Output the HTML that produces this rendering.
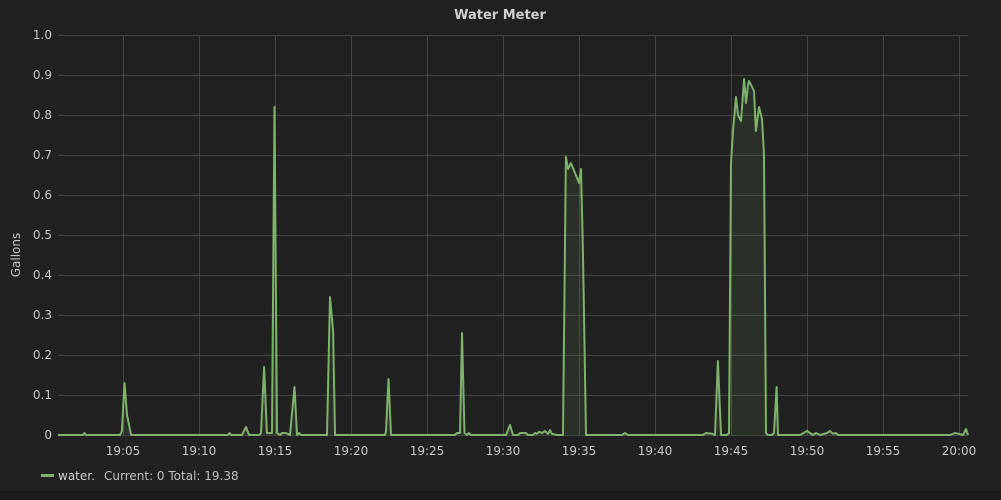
<!DOCTYPE html>
<html><head><meta charset="utf-8"><style>
body{margin:0;background:#1a1a1a;}
#wrap{width:1001px;height:500px;position:relative;overflow:hidden;background:#1c1c1c;font-family:"DejaVu Sans","Liberation Sans",sans-serif;}
#panel{position:absolute;left:0;top:0;width:1001px;height:491px;background:#212121;}
</style></head><body>
<div id="wrap">
<div id="panel"></div>
<svg id="chart" width="1001" height="500" style="position:absolute;left:0;top:0;font-family:'DejaVu Sans','Liberation Sans',sans-serif"></svg>
</div>
<script>
const minutes=[0.72,2.37,2.47,2.57,4.80,4.93,5.10,5.26,5.53,11.91,12.01,12.11,12.83,13.09,13.29,13.95,14.08,14.28,14.47,14.80,14.97,15.13,15.33,15.46,15.72,15.99,16.28,16.45,16.58,16.71,18.42,18.62,18.82,18.95,22.24,22.30,22.47,22.63,26.84,26.97,27.17,27.30,27.47,27.63,27.76,27.89,30.20,30.46,30.66,30.99,31.12,31.51,31.64,31.97,32.11,32.24,32.37,32.57,32.76,32.96,33.09,33.22,33.55,33.95,34.14,34.28,34.47,34.74,35.00,35.13,35.26,35.46,37.83,38.03,38.22,43.16,43.36,43.75,43.95,44.14,44.34,44.74,44.87,45.00,45.13,45.33,45.46,45.66,45.86,45.99,46.12,46.18,46.32,46.51,46.64,46.84,47.04,47.17,47.30,47.43,47.70,47.83,48.00,48.09,49.54,50.00,50.20,50.39,50.59,50.86,51.32,51.51,51.71,51.91,52.04,59.41,59.74,60.00,60.26,60.46,60.59];
const gallons=[0,0,0.005,0,0,0.01,0.13,0.05,0,0,0.005,0,0,0.02,0,0,0.005,0.17,0.005,0.005,0.82,0.005,0,0.005,0.005,0,0.12,0,0.005,0,0,0.345,0.26,0,0,0.01,0.14,0,0,0.005,0.005,0.255,0.005,0,0.005,0,0,0.025,0,0,0.005,0.005,0,0,0.005,0.003,0.008,0.005,0.01,0.003,0.012,0.003,0,0,0.695,0.665,0.68,0.655,0.63,0.665,0.45,0,0,0.005,0,0,0.005,0.003,0,0.185,0,0,0.005,0.68,0.76,0.845,0.8,0.785,0.89,0.83,0.875,0.885,0.875,0.86,0.76,0.82,0.79,0.7,0.005,0,0,0.005,0.12,0,0,0.01,0.005,0,0.005,0,0.005,0.01,0.003,0.005,0,0,0.005,0.003,0,0.015,0];
const yTicks=[0,0.1,0.2,0.3,0.4,0.5,0.6,0.7,0.8,0.9,1.0];
const yTickLabels=["0","0.1","0.2","0.3","0.4","0.5","0.6","0.7","0.8","0.9","1.0"];
const xTicks=[5,10,15,20,25,30,35,40,45,50,55,60];
const xTickLabels=["19:05","19:10","19:15","19:20","19:25","19:30","19:35","19:40","19:45","19:50","19:55","20:00"];
const L=58,R=968,T=35,B=435;
const xs=m=>47+15.2*m;
const ys=v=>B-(v)*(B-T);
const svg=document.getElementById('chart');
const NS='http://www.w3.org/2000/svg';
function mk(tag,attrs,parent){const e=document.createElementNS(NS,tag);for(const k in attrs)e.setAttribute(k,attrs[k]);(parent||svg).appendChild(e);return e;}
let t=mk('text',{x:500,y:19,'text-anchor':'middle','font-size':13,'font-weight':'bold',fill:'#d0d0d0'});
t.textContent='Water Meter';


yTicks.forEach((v,i)=>{
 const g=mk('line',{x1:L,x2:R,y1:ys(v)+0.5,y2:ys(v)+0.5,stroke:'#444','stroke-width':1});
 
 
 const l=mk('text',{x:52,y:ys(v)+4,'text-anchor':'end','font-size':12,fill:'#c8c8c8'});
 l.textContent=yTickLabels[i];
 
 
});
xTicks.forEach((m,i)=>{
 const g=mk('line',{x1:Math.round(xs(m))+0.5,x2:Math.round(xs(m))+0.5,y1:T,y2:B,stroke:'#444','stroke-width':1});
 
 
 const l=mk('text',{x:xs(m),y:455,'text-anchor':'middle','font-size':12,fill:'#c8c8c8'});
 l.textContent=xTickLabels[i];
 
 
});
let yt=mk('text',{x:0,y:0,transform:'translate(20,255) rotate(-90)','text-anchor':'middle','font-size':12,fill:'#c8c8c8'});
yt.textContent='Gallons';


let d=minutes.map((m,i)=>(i?'L':'M')+xs(m).toFixed(1)+','+ys(gallons[i]).toFixed(1)).join('');
let area=mk('path',{d:d+'L'+xs(minutes[minutes.length-1])+','+B+'L'+xs(minutes[0])+','+B+'Z',fill:'#7eb26d','fill-opacity':0.1});


let line=mk('path',{d:d,fill:'none',stroke:'#7eb26d','stroke-width':2,'stroke-linejoin':'round'});


let sw=mk('rect',{x:41,y:474,width:13,height:3,fill:'#7eb26d'});


let lt=mk('text',{x:58,y:480,'font-size':12,fill:'#d0d0d0'});
lt.textContent='water.';


let lv=mk('text',{x:104,y:480,'font-size':12,fill:'#c0c0c0'});
lv.textContent='Current: 0 Total: 19.38';


</script>
</body></html>
